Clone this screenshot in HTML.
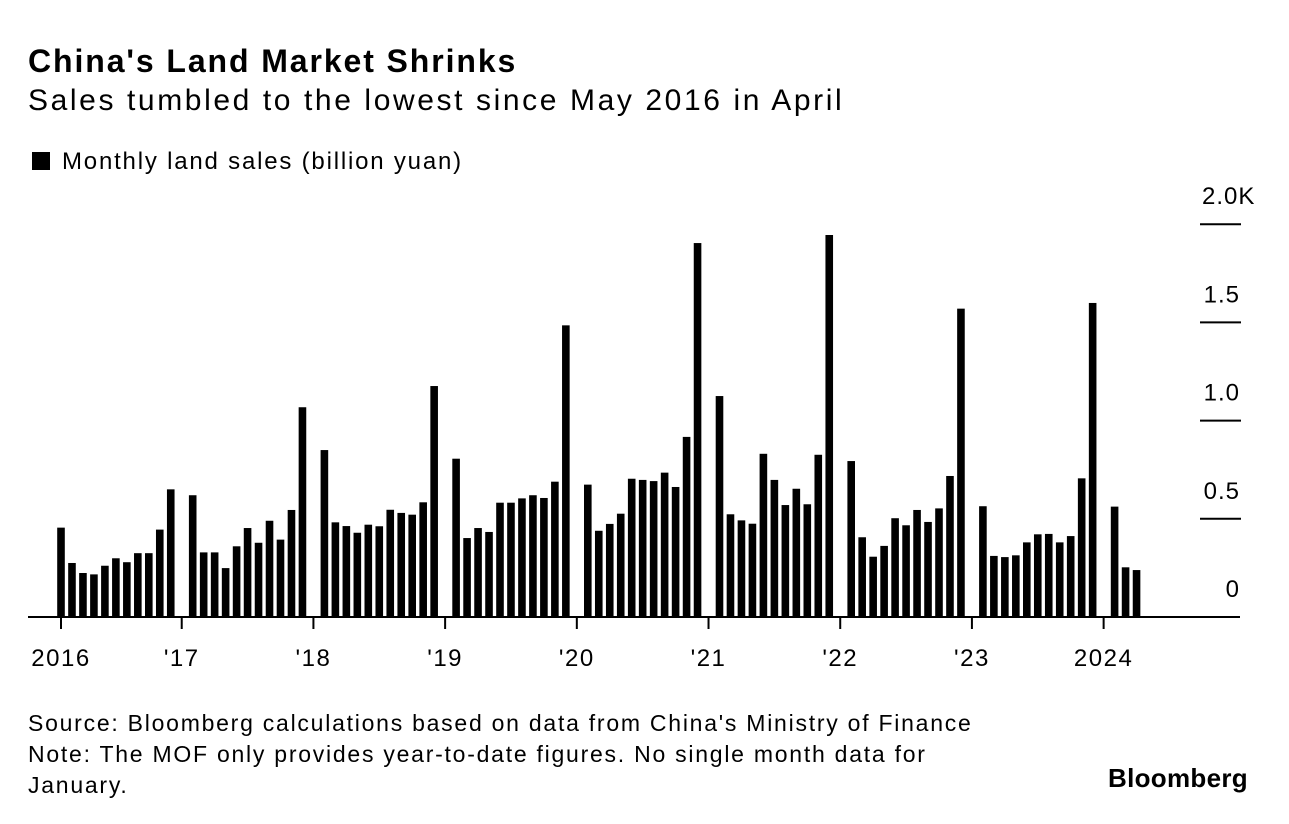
<!DOCTYPE html>
<html><head><meta charset="utf-8"><style>
body{margin:0;background:#fff;font-family:"Liberation Sans",Arial,sans-serif;color:#000;}
#wrap{position:relative;width:1289px;height:824px;overflow:hidden;}
.t{position:absolute;white-space:nowrap;}
</style></head><body>
<div id="wrap">
<div class="t" style="left:28px;top:43px;font-size:32px;font-weight:bold;letter-spacing:1.9px">China's Land Market Shrinks</div>
<div class="t" style="left:28px;top:84px;font-size:30px;letter-spacing:2.6px">Sales tumbled to the lowest since May 2016 in April</div>
<div class="t" style="left:32px;top:148px;font-size:24px;letter-spacing:1.8px"><span style="display:inline-block;width:18px;height:18px;background:#000;margin-right:12px;vertical-align:-1px"></span>Monthly land sales (billion yuan)</div>
<svg id="chart" width="1289" height="700" style="position:absolute;left:0;top:0"></svg>
<div class="t" style="left:28px;top:708px;font-size:23px;line-height:31px;letter-spacing:1.75px">Source: Bloomberg calculations based on data from China's Ministry of Finance<br>Note: The MOF only provides year-to-date figures. No single month data for<br>January.</div>
<div class="t" style="left:1108px;top:763px;font-size:26px;font-weight:bold;letter-spacing:0.3px">Bloomberg</div>
</div>
<script>
const years = [2016,2017,2018,2019,2020,2021,2022,2023,2024];
const values2016 = [455,275,224,217,261,299,279,325,325,445,650];
const values2017 = [620,329,329,249,360,453,378,490,394,545,1068];
const values2018 = [850,482,463,429,470,462,546,530,521,584,1176];
const values2019 = [806,402,453,433,582,582,604,620,606,689,1485];
const values2020 = [674,439,474,526,704,698,692,735,662,917,1904];
const values2021 = [1125,523,492,475,831,698,570,653,574,826,1945];
const values2022 = [794,406,307,362,503,467,545,484,553,718,1570];
const values2023 = [564,311,305,314,380,421,423,380,412,706,1599];
const values2024 = [562,253,239];
const yTicks = [0,500,1000,1500,2000];
const yTickLabels = ["0","0.5","1.0","1.5","2.0K"];
const xTickLabels = ["2016","'17","'18","'19","'20","'21","'22","'23","2024"];

const series=[values2016,values2017,values2018,values2019,values2020,values2021,values2022,values2023,values2024];
const svg=document.getElementById('chart');
const NS='http://www.w3.org/2000/svg';
const y0=617, pxPerK=196.4;
function y(v){return y0-v/1000*pxPerK;}
function x(i){return 61+(i-1)*10.975;}
function mk(t,a){const e=document.createElementNS(NS,t);for(const k in a)e.setAttribute(k,a[k]);svg.appendChild(e);return e;}
const FF='Liberation Sans, Arial, sans-serif';
yTicks.forEach((v,k)=>{
  if(v>0){const l=mk('line',{x1:1200,x2:1241,y1:y(v),y2:y(v),stroke:'#000','stroke-width':2});
  
  }
  const last=k===yTicks.length-1;
  const t=mk('text',{x:last?1202:1240,y:y(v)-20,'text-anchor':last?'start':'end','font-size':24,'letter-spacing':1,'font-family':FF});
  t.textContent=yTickLabels[k];
  
  
});
series.forEach((arr,yi)=>{
  arr.forEach((v,m)=>{
    const i=yi*12+m+1;
    const r=mk('rect',{x:x(i)-3.8,y:y(v),width:7.6,height:y0-y(v),fill:'#000'});
    
    
  });
});
const ax=mk('line',{x1:28,x2:1240,y1:y0,y2:y0,stroke:'#000','stroke-width':2});


xTickLabels.forEach((lab,k)=>{
  const i=k===0?1:k*12;
  const tk=mk('line',{x1:x(i),x2:x(i),y1:y0,y2:y0+12,stroke:'#000','stroke-width':2});
  
  
  const t=mk('text',{x:x(i),y:y0+49,'text-anchor':'middle','font-size':24,'letter-spacing':1.5,'font-family':FF});
  t.textContent=lab;
  
  
});
</script>
</body></html>
